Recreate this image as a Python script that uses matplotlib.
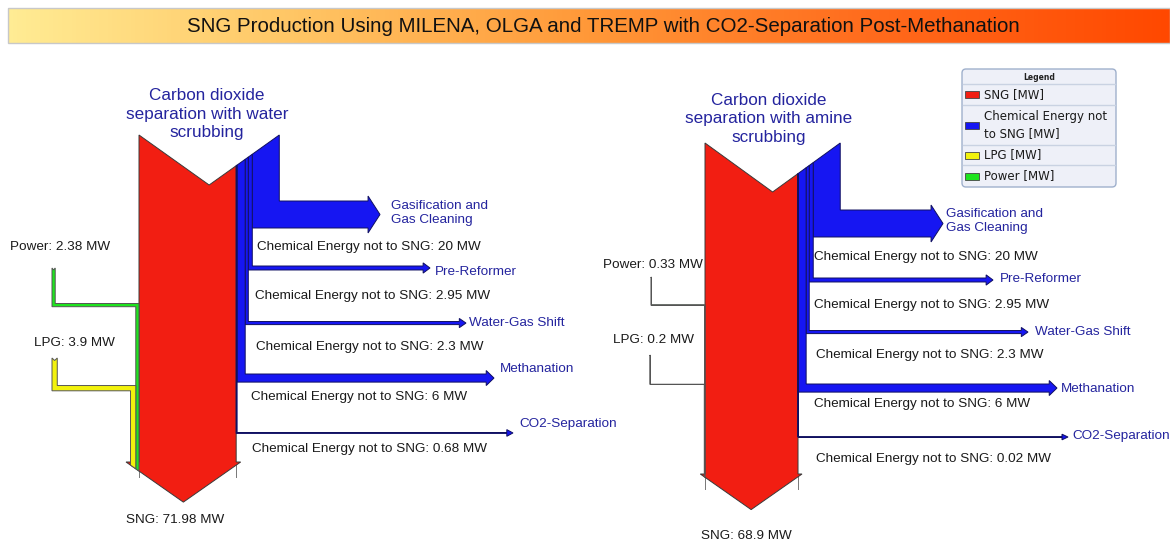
import numpy as np
import matplotlib
matplotlib.use("Agg")
import matplotlib.pyplot as plt
from matplotlib.patches import Polygon, FancyBboxPatch, Rectangle
from matplotlib.colors import LinearSegmentedColormap

# ---------------- data ----------------
title = "SNG Production Using MILENA, OLGA and TREMP with CO2-Separation Post-Methanation"
process_names = ["Carbon dioxide\nseparation with water\nscrubbing",
                 "Carbon dioxide\nseparation with amine\nscrubbing"]
sng_mw = [71.98, 68.9]
power_mw = [2.38, 0.33]
lpg_mw = [3.9, 0.2]
branch_names = ["Gasification and\nGas Cleaning", "Pre-Reformer", "Water-Gas Shift",
                "Methanation", "CO2-Separation"]
chem_left = [20, 2.95, 2.3, 6, 0.68]
chem_right = [20, 2.95, 2.3, 6, 0.02]
chem_values = [chem_left, chem_right]
legend_labels = ["SNG [MW]", "Chemical Energy not\nto SNG [MW]", "LPG [MW]", "Power [MW]"]

# ---------------- styles ----------------
RED = "#F21E12"
BLUE = "#1616F2"
YELLOW = "#F2F20C"
GREEN = "#1EE41E"
TXTBLUE = "#24249E"
EDGE = "#3a3a3a"
FONT = ["Liberation Sans", "DejaVu Sans"]
K = 1.35  # px per MW

# layout (pixel coordinates)
layouts = [
    dict(xl=139, ytop=135, depth=50, ybot=462, ov=4.5,
         branch_y=[201, 266, 321.5, 374, 432.5],
         tips=[380, 430, 466, 494, 513],
         name_xy=[(391, 213), (435, 272), (469, 323), (500, 369), (519, 424)],
         chem_xy=[(257, 247), (255, 296), (256, 347), (251, 397), (252, 449)],
         power_in=(52, 268, 306.7), lpg_in=(52, 358, 390.8),
         power_lbl=(10, 247), lpg_lbl=(34, 343), sng_lbl=(175, 520),
         head_xy=(207, 114)),
    dict(xl=705, ytop=143, depth=49, ybot=474, ov=4,
         branch_y=[210, 278, 330.5, 384, 437],
         tips=[943, 993, 1028, 1057, 1068],
         name_xy=[(946, 221), (1000, 279), (1035, 332), (1061, 389), (1072, 436)],
         chem_xy=[(814, 257), (814, 305), (816, 355), (814, 404), (816, 459)],
         power_in=(651, 277, 305.3), lpg_in=(650, 355, 384.5),
         power_lbl=(603, 265), lpg_lbl=(613, 340), sng_lbl=(746, 536),
         head_xy=(769, 119)),
]

fig = plt.figure(figsize=(11.7, 5.42), dpi=100)
ax = fig.add_axes([0, 0, 1, 1])
ax.set_xlim(0, 1170)
ax.set_ylim(542, 0)
ax.axis("off")

# ---------------- title bar ----------------
cmap = LinearSegmentedColormap.from_list("tb", ["#FFEC94", "#FFC564", "#FF9838", "#FF6A1C", "#FF4800"])
grad = np.linspace(0, 1, 256)[None, :]
ax.imshow(grad, cmap=cmap, extent=[8, 1170, 43, 8], aspect="auto", zorder=0)
ax.add_patch(Rectangle((8, 8), 1162, 35, fill=False, edgecolor="#c8c8c8", lw=1, zorder=1))
ax.text(603, 26.5, title, ha="center", va="center", fontsize=14.8, family=FONT, color="#111111", zorder=2)


def poly(pts, fc, ec=EDGE, lw=0.7, z=3):
    ax.add_patch(Polygon(pts, closed=True, facecolor=fc, edgecolor=ec, lw=lw, zorder=z, joinstyle="miter"))


def draw(idx):
    L = layouts[idx]
    chem = chem_values[idx]
    sng, pw, lp = sng_mw[idx], power_mw[idx], lpg_mw[idx]
    xl, ytop, depth, ybot, ov = L["xl"], L["ytop"], L["depth"], L["ybot"], L["ov"]
    xred_r = xl + K * sng
    xr = xred_r + K * sum(chem)
    xc = (xl + xr) / 2
    half = (xr - xl) / 2

    def cy(x):
        return ytop + depth * (1 - abs(x - xc) / half)

    # inputs positions (left of red)
    x_pw_l = xl - K * pw
    x_lp_l = x_pw_l - K * lp
    xa_l = x_lp_l - ov
    xa_r = xred_r + ov
    tipx = (xa_l + xa_r) / 2
    ah = (xa_r - xa_l) / 2 * 0.7

    def slope_y(x):
        return ybot + ah * (x - xa_l) / (tipx - xa_l)

    # red column with arrowhead
    red_pts = [(xl, ytop), (xc, ytop + depth), (xred_r, cy(xred_r)), (xred_r, ybot),
               (xa_r, ybot), (tipx, ybot + ah), (xa_l, ybot), (xl, ybot)]
    poly(red_pts, RED)
    # thin guide lines below
    ax.plot([xl, xl], [ybot, ybot + 15], color="#777777", lw=0.7, zorder=2)
    ax.plot([xred_r, xred_r], [ybot, ybot + 15], color="#777777", lw=0.7, zorder=2)

    # input streams
    for val, xin_l, (xt, yt, yturn), col in [(pw, x_pw_l, L["power_in"], GREEN),
                                              (lp, x_lp_l, L["lpg_in"], YELLOW)]:
        w = K * val
        xin_r = xin_l + w
        notch = min(2.5, 0.5 * w + 0.3)
        pts = [(xt, yt), (xt + w / 2, yt + notch), (xt + w, yt), (xt + w, yturn - w),
               (xin_r, yturn - w), (xin_r, slope_y(xin_r)), (xin_l, slope_y(xin_l)),
               (xin_l, yturn), (xt, yturn)]
        poly(pts, col, ec="#555555", lw=0.7, z=4)

    # blue streams
    for i, v in enumerate(chem):
        w = K * v
        x_r = xr - K * sum(chem[:i])
        x_l = x_r - w
        yb = L["branch_y"][i]
        tip = L["tips"][i]
        hl = 6 + 0.22 * w
        e = 2.8 + 0.08 * w
        ax_ = tip - hl
        pts = [(x_l, cy(x_l)), (x_r, cy(x_r)), (x_r, yb), (ax_, yb), (ax_, yb - e),
               (tip, yb + w / 2), (ax_, yb + w + e), (ax_, yb + w), (x_l, yb + w)]
        poly(pts, BLUE, ec="#101060", lw=0.7, z=3)
        nx, ny = L["name_xy"][i]
        ax.text(nx, ny, branch_names[i], ha="left", va="center", fontsize=9.7,
                family=FONT, color=TXTBLUE, linespacing=1.3, zorder=6)
        cx_, cy_ = L["chem_xy"][i]
        ax.text(cx_, cy_, f"Chemical Energy not to SNG: {v:g} MW", ha="left", va="center",
                fontsize=9.7, family=FONT, color="#1a1a1a", zorder=6)

    # labels
    ax.text(*L["power_lbl"], f"Power: {pw:g} MW", ha="left", va="center", fontsize=9.7,
            family=FONT, color="#1a1a1a", zorder=6)
    ax.text(*L["lpg_lbl"], f"LPG: {lp:g} MW", ha="left", va="center", fontsize=9.7,
            family=FONT, color="#1a1a1a", zorder=6)
    ax.text(*L["sng_lbl"], f"SNG: {sng:g} MW", ha="center", va="center", fontsize=9.7,
            family=FONT, color="#1a1a1a", zorder=6)
    ax.text(*L["head_xy"], process_names[idx], ha="center", va="center", fontsize=12.3,
            family=FONT, color=TXTBLUE, linespacing=1.32, zorder=6)


draw(0)
draw(1)

# ---------------- legend ----------------
lx0, lx1, ly0, ly1 = 962, 1116, 69, 187
ax.add_patch(FancyBboxPatch((lx0, ly0), lx1 - lx0, ly1 - ly0,
                            boxstyle="round,pad=0,rounding_size=4",
                            facecolor="#EEF0F8", edgecolor="#9fb0cc", lw=1.0, zorder=5))
ax.text((lx0 + lx1) / 2, 77, "Legend", ha="center", va="center", fontsize=5.5,
        fontweight="bold", family=["DejaVu Sans"], color="#222222", zorder=6)
row_bounds = [84, 105, 145, 165, 187]
for yline in row_bounds[:-1]:
    ax.plot([lx0 + 1, lx1 - 1], [yline, yline], color="#c9d2e2", lw=1.0, zorder=6)
sw_cols = [RED, BLUE, YELLOW, GREEN]
for j, (lab, col) in enumerate(zip(legend_labels, sw_cols)):
    yc = (row_bounds[j] + row_bounds[j + 1]) / 2
    ax.add_patch(Rectangle((965, yc - 3.5), 14, 7, facecolor=col, edgecolor="#444444",
                           lw=0.6, zorder=6))
    ax.text(984, yc, lab, ha="left", va="center", fontsize=8.5, family=["DejaVu Sans"],
            color="#1a1a1a", linespacing=1.4, zorder=6)

fig.savefig("out.png", dpi=100)
